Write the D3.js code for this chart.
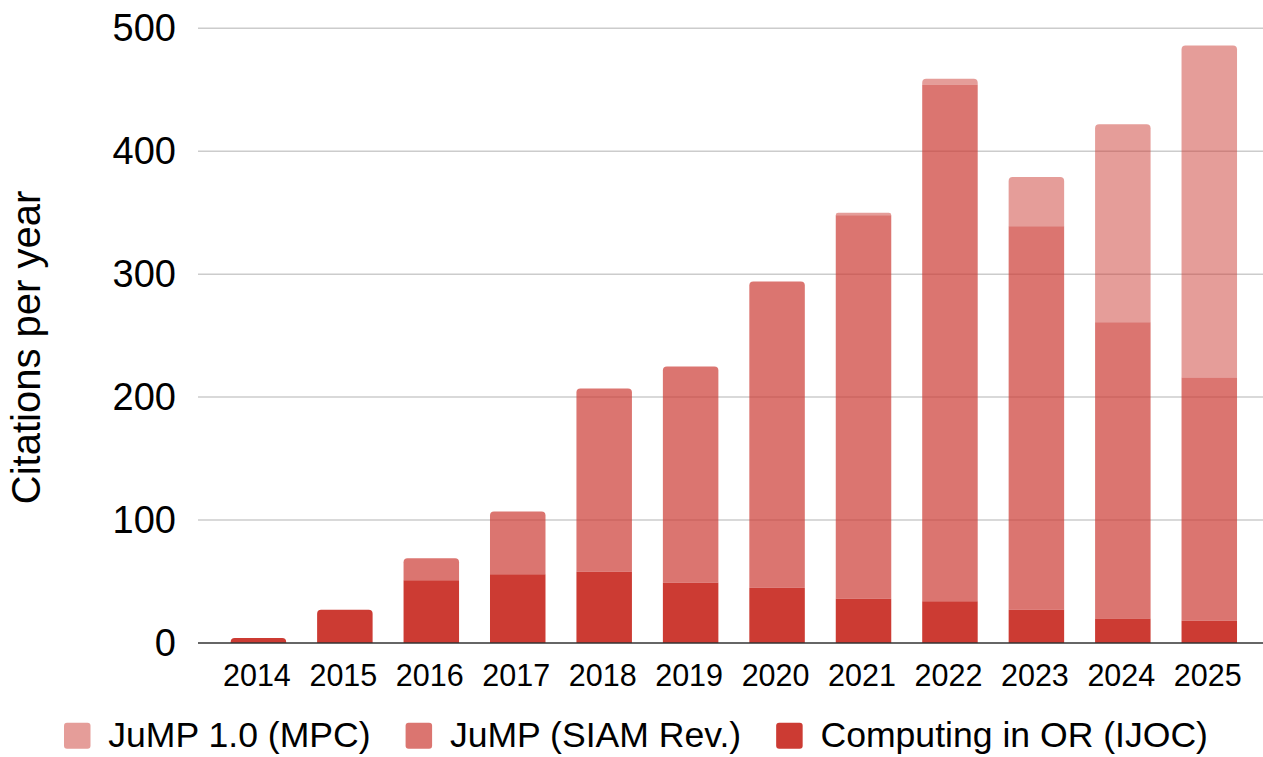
<!DOCTYPE html>
<html>
<head>
<meta charset="utf-8">
<script src="https://cdn.jsdelivr.net/npm/d3@7"></script>
<style>
  html, body { margin: 0; padding: 0; background: #fff; }
  svg { display: block; }
  text { font-family: "Liberation Sans", Arial, Helvetica, sans-serif; fill: #000; }
</style>
</head>
<body>
<svg id="chart" width="1263" height="757"></svg>
<script>
const years = ["2014","2015","2016","2017","2018","2019","2020","2021","2022","2023","2024","2025"];
const ijoc  = [4, 27, 51, 56, 58, 49, 45, 36, 34, 27, 20, 18];
const siam  = [0, 0, 18, 51, 149, 176, 249, 312, 420, 312, 241, 198];
const mpc   = [0, 0, 0, 0, 0, 0, 0, 2, 5, 40, 161, 270];
const yTicks = [0, 100, 200, 300, 400, 500];
const seriesNames = ["JuMP 1.0 (MPC)", "JuMP (SIAM Rev.)", "Computing in OR (IJOC)"];
const yTitle = "Citations per year";

const baseColor = "#cc3b33";
const keys = ["ijoc", "siam", "mpc"];
const opacity = { ijoc: 1, siam: 0.7, mpc: 0.5 };

const rows = years.map((y, i) => ({ year: y, ijoc: ijoc[i], siam: siam[i], mpc: mpc[i] }));

const svg = d3.select("#chart");

const x = d3.scaleBand().domain(years).range([215.2, 1252.5]).paddingInner(0.358).paddingOuter(0.179);
const y = d3.scaleLinear().domain([0, 500]).range([643, 28.3]);

// gridlines
svg.append("g").selectAll("line").data(yTicks.filter(t => t > 0)).join("line")
  .attr("x1", 198).attr("x2", 1263)
  .attr("y1", d => y(d)).attr("y2", d => y(d))
  .attr("stroke", "#cccccc").attr("stroke-width", 1.5);

// y tick labels
svg.append("g").selectAll("text").data(yTicks).join("text")
  .attr("x", 176).attr("y", d => y(d)).attr("dy", "0.33em")
  .attr("text-anchor", "end").attr("font-size", 38)
  .text(d => d);

// stacked bars
const stacked = d3.stack().keys(keys)(rows);
const topKey = rows.map(r => { let k = null; keys.forEach(kk => { if (r[kk] > 0) k = kk; }); return k; });

function barPath(x0, w, yTop, yBot, rounded) {
  const h = yBot - yTop;
  const r = rounded ? Math.min(4, h, w / 2) : 0;
  if (r <= 0) return `M${x0},${yBot}V${yTop}H${x0 + w}V${yBot}Z`;
  return `M${x0},${yBot}V${yTop + r}Q${x0},${yTop} ${x0 + r},${yTop}H${x0 + w - r}Q${x0 + w},${yTop} ${x0 + w},${yTop + r}V${yBot}Z`;
}

svg.append("g").selectAll("g").data(stacked).join("g")
  .attr("fill", baseColor)
  .attr("fill-opacity", s => opacity[s.key])
  .each(function(s) {
    d3.select(this).selectAll("path").data(s.filter(d => d[1] > d[0])).join("path")
      .attr("d", d => {
        const i = years.indexOf(d.data.year);
        return barPath(x(d.data.year), x.bandwidth(), y(d[1]), y(d[0]), topKey[i] === s.key);
      });
  });

// baseline
svg.append("line").attr("x1", 198).attr("x2", 1263).attr("y1", y(0)).attr("y2", y(0))
  .attr("stroke", "#333").attr("stroke-width", 1.5);

// x labels
svg.append("g").selectAll("text").data(years).join("text")
  .attr("x", d => x(d) + x.bandwidth() / 2 - 1.5).attr("y", 685.5)
  .attr("text-anchor", "middle").attr("font-size", 30.5)
  .text(d => d);

// y title
svg.append("text")
  .attr("transform", "translate(40,347.5) rotate(-90)")
  .attr("text-anchor", "middle").attr("font-size", 40)
  .text(yTitle);

// legend
const legendKeys = ["mpc", "siam", "ijoc"];
const leg = svg.append("g");
let lx = 64;
legendKeys.forEach((k, i) => {
  leg.append("rect").attr("x", lx).attr("y", 722.7).attr("width", 26.5).attr("height", 26)
    .attr("rx", 3).attr("fill", baseColor).attr("fill-opacity", opacity[k]);
  const t = leg.append("text").attr("x", lx + 44.3).attr("y", 747)
    .attr("font-size", 35.6).text(seriesNames[i]);
  const w = t.node().getComputedTextLength();
  lx = lx + 44.3 + w + 35;
});
</script>
</body>
</html>
